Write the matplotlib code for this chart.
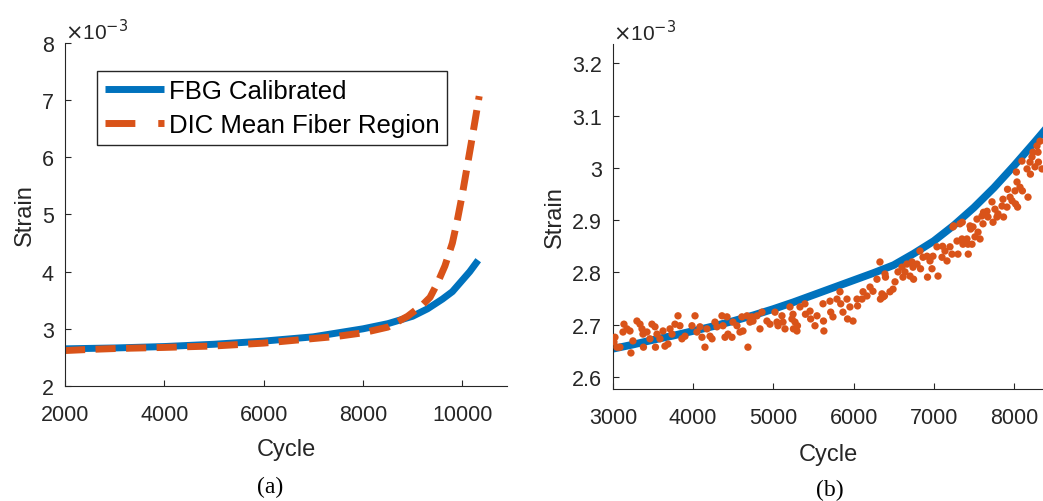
import numpy as np
import matplotlib
matplotlib.use('Agg')
from matplotlib import pyplot as plt
from matplotlib.ticker import FormatStrFormatter

# strain values are in units of 1e-3
# (a) full test
fbg_cycle = [2000, 3000, 4000, 5000, 6000, 7000, 8000, 8500, 9000, 9300, 9600, 9800, 10000, 10150, 10320]
fbg_strain = [2.65, 2.665, 2.69, 2.73, 2.785, 2.86, 3.0, 3.09, 3.22, 3.35, 3.52, 3.65, 3.85, 4.0, 4.2]

dic_cycle = [2000, 2500, 3000, 4000, 5000, 6000, 7000, 7500, 8000, 8500, 8900, 9200, 9350, 9500,
             9650, 9800, 9900, 10000, 10100, 10200, 10340]
dic_strain = [2.62, 2.64, 2.655, 2.675, 2.70, 2.75, 2.83, 2.87, 2.93, 3.03, 3.22, 3.42, 3.55, 3.8,
              4.1, 4.5, 4.9, 5.35, 5.85, 6.35, 7.07]

# (b) zoom on 3000-8400 cycles
fbg_cycle_b = [3000, 3250, 3500, 3750, 4000, 4250, 4500, 4750, 5000, 5250, 5500, 5750, 6000,
               6250, 6500, 6750, 7000, 7250, 7500, 7750, 8000, 8250, 8400]
fbg_strain_b = [2.654, 2.662, 2.671, 2.679, 2.688, 2.697, 2.707, 2.718, 2.730, 2.743, 2.757, 2.771,
                2.785, 2.799, 2.814, 2.836, 2.860, 2.890, 2.924, 2.962, 3.004, 3.048, 3.075]

dic_pts = [
    (3025, 2.676), (3012, 2.667), (3050, 2.657), (3137, 2.701), (3125, 2.686), (3175, 2.692),
    (3087, 2.657), (3212, 2.688), (3224, 2.646), (3249, 2.669), (3299, 2.707), (3337, 2.701),
    (3362, 2.692), (3374, 2.682), (3424, 2.686), (3380, 2.657), (3461, 2.673), (3486, 2.701),
    (3524, 2.696), (3549, 2.682), (3530, 2.657), (3586, 2.673), (3624, 2.688), (3648, 2.659),
    (3686, 2.663), (3711, 2.692), (3736, 2.682), (3773, 2.701), (3811, 2.717), (3835, 2.698),
    (3860, 2.673), (3898, 2.678), (3985, 2.698), (4023, 2.717), (4047, 2.686), (4085, 2.696),
    (4110, 2.676), (4147, 2.657), (4172, 2.692), (4210, 2.678), (4235, 2.673), (4272, 2.705),
    (4297, 2.696), (4359, 2.717), (4372, 2.698), (4397, 2.676), (4422, 2.715), (4434, 2.682),
    (4484, 2.676), (4496, 2.705), (4546, 2.698), (4584, 2.686), (4608, 2.715), (4621, 2.688),
    (4671, 2.717), (4683, 2.657), (4708, 2.705), (4733, 2.715), (4746, 2.707), (4796, 2.717),
    (4833, 2.692), (4858, 2.724), (4920, 2.707), (4958, 2.701), (5020, 2.724), (5045, 2.705),
    (5058, 2.698), (5107, 2.717), (5120, 2.705), (5145, 2.692), (5207, 2.734), (5232, 2.711),
    (5245, 2.720), (5270, 2.705), (5294, 2.688), (5300, 2.698), (5250, 2.692), (5332, 2.734),
    (5394, 2.740), (5400, 2.720), (5457, 2.726), (5465, 2.711), (5519, 2.698), (5544, 2.717),
    (5619, 2.740), (5625, 2.707), (5630, 2.688), (5706, 2.745), (5715, 2.724), (5743, 2.715),
    (5793, 2.749), (5831, 2.763), (5840, 2.740), (5868, 2.724), (5918, 2.749), (5925, 2.711),
    (5955, 2.734), (5993, 2.707), (6043, 2.749), (6050, 2.736), (6105, 2.749), (6118, 2.763),
    (6167, 2.755), (6205, 2.772), (6242, 2.764), (6292, 2.787), (6329, 2.820), (6335, 2.749),
    (6354, 2.759), (6367, 2.753), (6385, 2.755), (6392, 2.797), (6398, 2.791), (6454, 2.763),
    (6492, 2.768), (6517, 2.782), (6554, 2.801), (6604, 2.810), (6616, 2.791), (6641, 2.801),
    (6666, 2.816), (6704, 2.793), (6729, 2.820), (6741, 2.810), (6748, 2.787), (6791, 2.816),
    (6828, 2.841), (6835, 2.807), (6866, 2.829), (6916, 2.831), (6922, 2.791), (6953, 2.822),
    (6978, 2.807), (6990, 2.831), (7040, 2.849), (7053, 2.793), (7103, 2.829), (7110, 2.850),
    (7140, 2.841), (7165, 2.822), (7202, 2.849), (7227, 2.835), (7240, 2.887), (7248, 2.889),
    (7290, 2.860), (7302, 2.835), (7327, 2.893), (7352, 2.864), (7355, 2.896), (7364, 2.854),
    (7414, 2.864), (7427, 2.854), (7430, 2.835), (7452, 2.889), (7460, 2.883), (7477, 2.854),
    (7489, 2.887), (7514, 2.868), (7539, 2.902), (7552, 2.877), (7577, 2.864), (7601, 2.908),
    (7614, 2.893), (7620, 2.915), (7664, 2.917), (7676, 2.906), (7726, 2.935), (7739, 2.896),
    (7763, 2.921), (7788, 2.906), (7801, 2.912), (7851, 2.927), (7863, 2.940), (7870, 2.906),
    (7913, 2.925), (7920, 2.959), (7951, 2.944), (7976, 2.937), (8013, 2.956), (8020, 2.931),
    (8030, 2.992), (8038, 2.973), (8045, 2.925), (8075, 2.963), (8100, 3.013), (8105, 2.956),
    (8163, 2.998), (8175, 2.944), (8200, 3.011), (8205, 2.988), (8225, 3.021), (8237, 3.030),
    (8262, 3.002), (8287, 3.042), (8300, 3.030), (8305, 3.011), (8325, 3.051), (8350, 2.998),
]
dic_cycle_b = [p[0] for p in dic_pts]
dic_strain_b = [p[1] for p in dic_pts]

blue = '#0072BD'
orange = '#D95319'
dark = '#262626'
plt.rcParams['font.family'] = ['Liberation Sans', 'DejaVu Sans']

fig = plt.figure(figsize=(10.43, 5.02), dpi=100)
ax1 = fig.add_axes([0.0623, 0.2291, 0.4238, 0.6833])
ax2 = fig.add_axes([0.5877, 0.2231, 0.4123, 0.6873])

ax1.plot(fbg_cycle, fbg_strain, color=blue, lw=5, label='FBG Calibrated', solid_capstyle='butt')
ax1.plot(dic_cycle, dic_strain, color=orange, lw=5, linestyle=(0, (2.9, 1.5)),
         label='DIC Mean Fiber Region')
ax1.set_xlim(2000, 10900)
ax1.set_ylim(2, 8)
ax1.set_xticks([2000, 4000, 6000, 8000, 10000])
ax1.set_yticks([2, 3, 4, 5, 6, 7, 8])
leg = ax1.legend(loc='upper left', bbox_to_anchor=(0.072, 0.918), borderaxespad=0,
                 fontsize=18.5, handlelength=2.3, handletextpad=0.2, borderpad=0.3,
                 labelspacing=0.4, fancybox=False, framealpha=1, edgecolor=dark)
leg.get_frame().set_linewidth(1.0)
leg.get_lines()[1].set_linestyle((0, (4.3, 3.3)))
for t in leg.get_texts():
    t.set_color('black')

ax2.plot(fbg_cycle_b, fbg_strain_b, color=blue, lw=5.5, zorder=2)
ax2.scatter(dic_cycle_b, dic_strain_b, s=28, color=orange, edgecolors='none', zorder=3)
ax2.set_xlim(3000, 8362)
ax2.set_ylim(2.577, 3.237)
ax2.set_xticks([3000, 4000, 5000, 6000, 7000, 8000])
ax2.set_yticks([2.6, 2.7, 2.8, 2.9, 3.0, 3.1, 3.2])
ax2.yaxis.set_major_formatter(FormatStrFormatter('%g'))

for ax in (ax1, ax2):
    for s in ('top', 'right'):
        ax.spines[s].set_visible(False)
    for s in ('left', 'bottom'):
        ax.spines[s].set_color(dark)
        ax.spines[s].set_linewidth(0.8)
    ax.tick_params(axis='both', direction='in', length=4, width=0.8, color=dark,
                   labelcolor=dark, labelsize=15.5)
    ax.tick_params(axis='x', pad=13)
    ax.tick_params(axis='y', pad=8)
    ax.set_ylabel('Strain', fontsize=17, color=dark, labelpad=4)
    ax.text(0.0, 1.0, r'$\times$10$^{-3}$', transform=ax.transAxes, fontsize=15,
            color=dark, ha='left', va='bottom')
ax1.set_xlabel('Cycle', fontsize=17, color=dark, labelpad=9)
ax2.set_xlabel('Cycle', fontsize=17, color=dark, labelpad=11)

fig.text(270 / 1043, 1 - 487 / 502, '(a)', fontsize=17, family='Liberation Serif',
         ha='center', va='center')
fig.text(830 / 1043, 1 - 490 / 502, '(b)', fontsize=17, family='Liberation Serif',
         ha='center', va='center')

plt.savefig('out.png', dpi=100)
plt.close()
